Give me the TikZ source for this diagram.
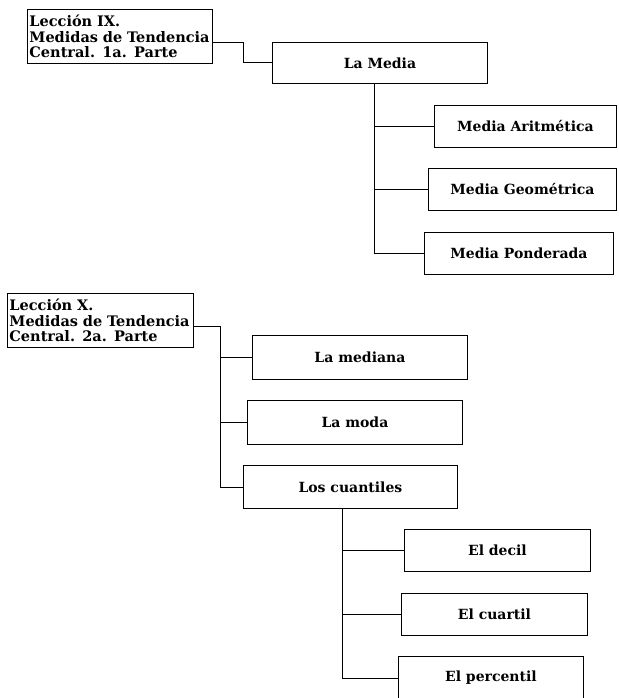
\documentclass[tikz,border=0pt]{standalone}
\usepackage{fontspec}
\setmainfont{DejaVu Serif}
\begin{document}
\begin{tikzpicture}[x=1pt,y=-1pt,
  box/.style={draw, line width=0.9pt, anchor=north west, inner sep=0pt, font=\fontsize{14}{15}\selectfont\bfseries},
  title/.style={box, align=left, inner xsep=2pt, font=\fontsize{14.5}{15.5}\selectfont\bfseries},
  conn/.style={line width=0.9pt}]
\useasboundingbox (0,0) rectangle (618,698);
% first lesson
\node[title, minimum width=185, minimum height=54, text width=181] (b1) at (27,9) {Lección IX.\\Medidas de Tendencia\\Central. 1a. Parte};
\node[box, minimum width=215, minimum height=41] (media) at (272,42) {La Media};
\node[box, minimum width=182, minimum height=42] (ma) at (434,105) {Media Aritmética};
\node[box, minimum width=188, minimum height=42] (mg) at (428,168) {Media Geométrica};
\node[box, minimum width=189, minimum height=42] (mp) at (424,232) {Media Ponderada};
\draw[conn] (b1.east |- 0,42) -- (243,42) |- (media.west);
\draw[conn] (media.south -| 374,0) |- (mp.west);
\draw[conn] (374,0 |- ma.west) -- (ma.west);
\draw[conn] (374,0 |- mg.west) -- (mg.west);
% second lesson
\node[title, minimum width=186, minimum height=54, text width=182] (b2) at (7,293) {Lección X.\\Medidas de Tendencia\\Central. 2a. Parte};
\node[box, minimum width=215, minimum height=44] (lmed) at (252,335) {La mediana};
\node[box, minimum width=215, minimum height=44] (lmoda) at (247,400) {La moda};
\node[box, minimum width=214, minimum height=43] (lc) at (243,465) {Los cuantiles};
\draw[conn] (b2.east |- 0,326) -- (220,326) |- (lc.west);
\draw[conn] (220,0 |- lmed.west) -- (lmed.west);
\draw[conn] (220,0 |- lmoda.west) -- (lmoda.west);
\node[box, minimum width=186, minimum height=42] (decil) at (404,529) {El decil};
\node[box, minimum width=186, minimum height=42] (cuartil) at (401,593) {El cuartil};
\node[box, minimum width=185, minimum height=43] (perc) at (398,656) {El percentil};
\draw[conn] (lc.south -| 342,0) |- (perc.west);
\draw[conn] (342,0 |- decil.west) -- (decil.west);
\draw[conn] (342,0 |- cuartil.west) -- (cuartil.west);
\end{tikzpicture}
\end{document}
